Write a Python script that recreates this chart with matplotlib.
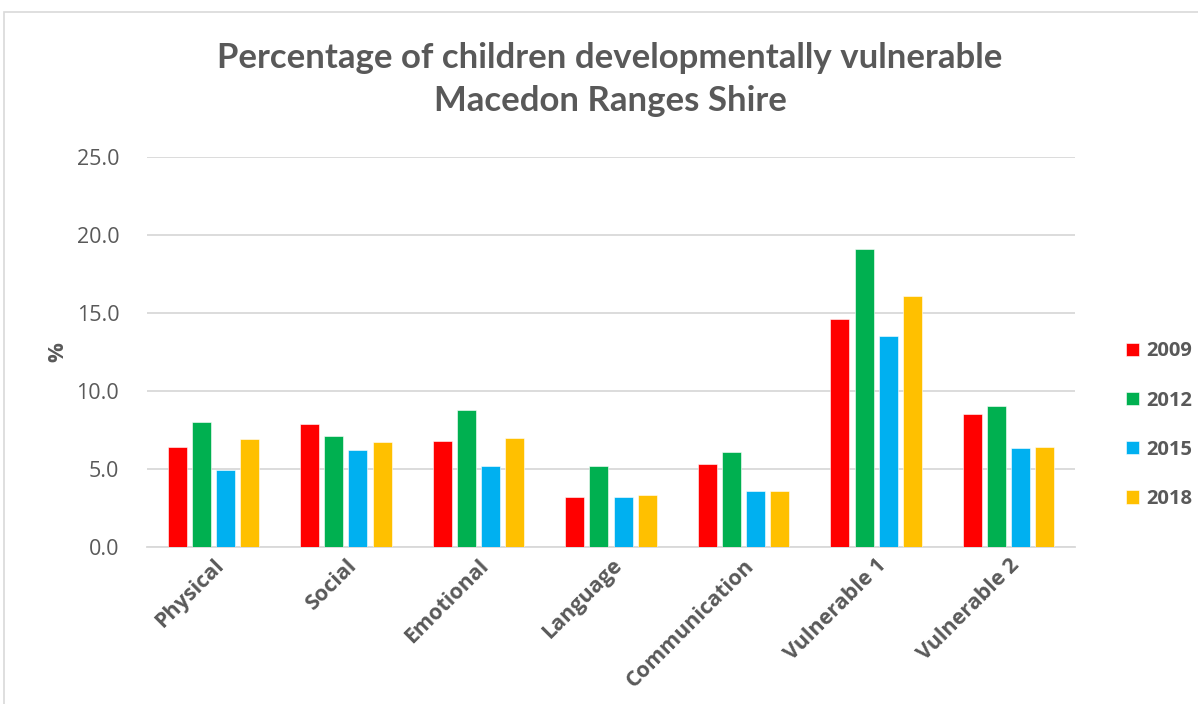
import matplotlib.pyplot as plt
from matplotlib.patches import Rectangle
import numpy as np

categories = ['Physical', 'Social', 'Emotional', 'Language', 'Communication', 'Vulnerable 1', 'Vulnerable 2']
years = ['2009', '2012', '2015', '2018']
v2009 = [6.4, 7.9, 6.8, 3.2, 5.3, 14.6, 8.5]
v2012 = [8.0, 7.1, 8.8, 5.2, 6.1, 19.1, 9.0]
v2015 = [4.9, 6.2, 5.2, 3.2, 3.6, 13.5, 6.3]
v2018 = [6.9, 6.7, 7.0, 3.3, 3.6, 16.1, 6.4]
series = [v2009, v2012, v2015, v2018]
colors = ['#FF0000', '#00B050', '#00B0F0', '#FFC000']

txt = '#595959'
grid = '#D9D9D9'

fig = plt.figure(figsize=(11.98, 7.04), dpi=100)
# outer chart frame
fig.patches.append(Rectangle((4/1198, -0.1), 1.2, 1 - 12/704 + 0.1, transform=fig.transFigure,
                             fill=False, edgecolor=grid, lw=1.2))

ax = fig.add_axes([147/1198, 1 - 546.7/704, (1075 - 147)/1198, (546.7 - 157)/704])

x = np.arange(len(categories))
pitch = 0.182
width = 0.143
for i, (vals, c, yr) in enumerate(zip(series, colors, years)):
    ax.bar(x + (i - 1.5) * pitch, vals, width, color=c, label=yr, zorder=3,
           edgecolor='white', linewidth=0.4)

ax.set_xlim(-0.5, len(categories) - 0.5)
ax.set_ylim(0, 25)
ax.set_yticks(np.arange(0, 26, 5))
ax.set_yticklabels(['%.1f' % t for t in np.arange(0, 26, 5)], fontsize=15.5, color=txt, family='Open Sans')
ax.yaxis.grid(True, color=grid, lw=1.3, zorder=0)
ax.tick_params(axis='y', length=0, pad=20)
ax.tick_params(axis='x', length=0, pad=6)
for s in ['top', 'right', 'left']:
    ax.spines[s].set_visible(False)
ax.spines['bottom'].set_color(grid)
ax.spines['bottom'].set_linewidth(1.3)

ax.set_xticks(x)
ax.set_xticklabels(categories, rotation=45, ha='right', rotation_mode='anchor',
                   fontsize=15.5, fontweight='bold', color=txt, family='Open Sans')
ax.set_ylabel('%', fontsize=16, fontweight='bold', color=txt, family='Open Sans', labelpad=6)

fig.text(610/1198, 1 - 58/704, 'Percentage of children developmentally vulnerable',
         ha='center', va='center', fontsize=25, fontweight='bold', color=txt, family='Lato')
fig.text(610/1198, 1 - 101/704, 'Macedon Ranges Shire',
         ha='center', va='center', fontsize=25, fontweight='bold', color=txt, family='Lato')

leg = ax.legend(loc='center left', bbox_to_anchor=(1.035, 0.312), frameon=False,
                prop={'family': 'Open Sans', 'weight': 'bold', 'size': 14.5},
                handlelength=0.65, handleheight=0.65, handletextpad=0.4, labelspacing=1.45)
for t in leg.get_texts():
    t.set_color(txt)

fig.savefig('out.png', dpi=100)
